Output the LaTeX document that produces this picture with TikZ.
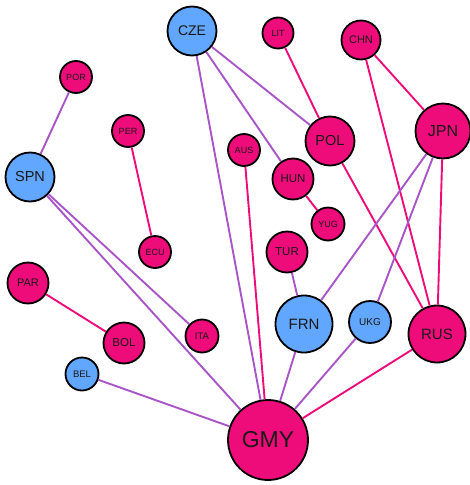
\documentclass[tikz,border=0pt]{standalone}
\usepackage{fontspec}
\setmainfont{Liberation Sans}
\definecolor{pk}{RGB}{238,12,122}
\definecolor{bl}{RGB}{97,166,255}
\definecolor{pu}{RGB}{168,85,200}
\begin{document}
\begin{tikzpicture}[x=1pt,y=-1pt,
  nd/.style={circle,draw=black,line width=1.8pt,inner sep=0pt,text=black!90},
  pnode/.style={nd,fill=pk},
  bnode/.style={nd,fill=bl},
  pe/.style={draw=pk,line width=1.9pt},
  ue/.style={draw=pu,line width=1.9pt}]
\useasboundingbox (0,0) rectangle (470,485);
\node[bnode,minimum size=49pt,font=\fontsize{14}{14}\selectfont] (CZE) at (192,31) {CZE};
\node[pnode,minimum size=31pt,font=\fontsize{9}{9}\selectfont] (LIT) at (278,33) {LIT};
\node[pnode,minimum size=39pt,font=\fontsize{11}{11}\selectfont] (CHN) at (361,40) {CHN};
\node[pnode,minimum size=32pt,font=\fontsize{9}{9}\selectfont] (POR) at (76,77) {POR};
\node[pnode,minimum size=55pt,font=\fontsize{16}{16}\selectfont] (JPN) at (443,131) {JPN};
\node[pnode,minimum size=32pt,font=\fontsize{9}{9}\selectfont] (PER) at (128,131) {PER};
\node[pnode,minimum size=49pt,font=\fontsize{14.5}{15}\selectfont] (POL) at (330,141) {POL};
\node[pnode,minimum size=32pt,font=\fontsize{9}{9}\selectfont] (AUS) at (244,150) {AUS};
\node[bnode,minimum size=49pt,font=\fontsize{14.5}{15}\selectfont] (SPN) at (30,177) {SPN};
\node[pnode,minimum size=41pt,font=\fontsize{11.5}{12}\selectfont] (HUN) at (293,179) {HUN};
\node[pnode,minimum size=33pt,font=\fontsize{9}{9}\selectfont] (YUG) at (328,224) {YUG};
\node[pnode,minimum size=32pt,font=\fontsize{9}{9}\selectfont] (ECU) at (155,252) {ECU};
\node[pnode,minimum size=41pt,font=\fontsize{11.5}{12}\selectfont] (TUR) at (287,252) {TUR};
\node[pnode,minimum size=41pt,font=\fontsize{11}{11}\selectfont] (PAR) at (28,283) {PAR};
\node[bnode,minimum size=57pt,font=\fontsize{15}{15}\selectfont] (FRN) at (304,324) {FRN};
\node[bnode,minimum size=42pt,font=\fontsize{10}{10}\selectfont] (UKG) at (370,322) {UKG};
\node[pnode,minimum size=57pt,font=\fontsize{15}{15}\selectfont] (RUS) at (437,334) {RUS};
\node[pnode,minimum size=33pt,font=\fontsize{9.5}{10}\selectfont] (ITA) at (202,336) {ITA};
\node[pnode,minimum size=41pt,font=\fontsize{11.5}{12}\selectfont] (BOL) at (124,343) {BOL};
\node[bnode,minimum size=33pt,font=\fontsize{9.5}{10}\selectfont] (BEL) at (82,374) {BEL};
\node[pnode,minimum size=80pt,font=\fontsize{23}{23}\selectfont] (GMY) at (268,440) {GMY};
\path[ue] (POR) -- (SPN);
\path[ue] (SPN) -- (ITA);
\path[ue] (SPN) -- (GMY);
\path[pe] (PER) -- (ECU);
\path[pe] (PAR) -- (BOL);
\path[ue] (BEL) -- (GMY);
\path[ue] (CZE) -- (GMY);
\path[ue] (CZE) -- (POL);
\path[ue] (CZE) -- (HUN);
\path[pe] (AUS) -- (GMY);
\path[pe] (LIT) -- (POL);
\path[pe] (CHN) -- (JPN);
\path[pe] (CHN) -- (RUS);
\path[pe] (POL) -- (RUS);
\path[pe] (HUN) -- (YUG);
\path[ue] (JPN) -- (FRN);
\path[ue] (JPN) -- (UKG);
\path[pe] (JPN) -- (RUS);
\path[ue] (TUR) -- (FRN);
\path[ue] (FRN) -- (GMY);
\path[ue] (UKG) -- (GMY);
\path[pe] (RUS) -- (GMY);
\end{tikzpicture}
\end{document}
